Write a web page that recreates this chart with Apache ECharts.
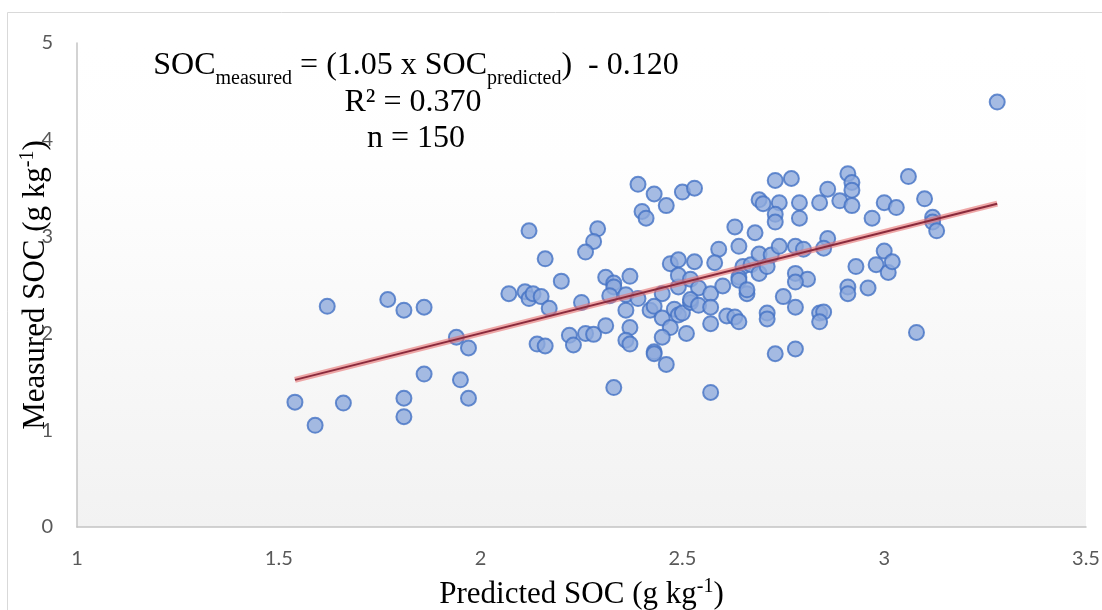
<!DOCTYPE html>
<html>
<head>
<meta charset="utf-8">
<script src="https://cdn.jsdelivr.net/npm/echarts@6/dist/echarts.min.js"></script>
<style>
  html, body { margin: 0; padding: 0; background: #fff; }
  #chart { width: 1102px; height: 610px; }
</style>
</head>
<body>
<div id="chart"></div>
<script>
// predicted vs measured SOC
const predicted = [
  1.54, 1.59, 1.62, 1.66, 1.77, 1.81, 1.86, 1.81, 1.81, 1.86, 1.94, 1.97, 1.95, 1.97,
  2.07, 2.11, 2.12, 2.13, 2.15, 2.17, 2.12, 2.16, 2.20, 2.25, 2.14, 2.16, 2.22, 2.23,
  2.26, 2.28, 2.29, 2.28, 2.26, 2.31, 2.33, 2.33, 2.32, 2.31, 2.33,
  2.37, 2.36, 2.39, 2.36, 2.37, 2.36, 2.37, 2.39, 2.43, 2.46, 2.40, 2.41, 2.45, 2.42,
  2.43, 2.45, 2.48, 2.49, 2.50, 2.52, 2.49, 2.47, 2.45, 2.51, 2.43, 2.43, 2.46, 2.47,
  2.49, 2.49,
  2.50, 2.53, 2.53, 2.52, 2.54, 2.57, 2.60, 2.52, 2.54, 2.57, 2.57, 2.57, 2.59, 2.58,
  2.63, 2.64, 2.65, 2.67, 2.64, 2.66, 2.61, 2.63, 2.64, 2.69, 2.70, 2.68, 2.69, 2.69,
  2.71, 2.72,
  2.73, 2.77, 2.74, 2.79, 2.73, 2.73, 2.79, 2.74, 2.78, 2.80, 2.78, 2.81, 2.78, 2.71,
  2.71, 2.75, 2.78, 2.73, 2.78, 2.84, 2.86, 2.89, 2.86, 2.85, 2.84, 2.85, 2.84,
  2.91, 2.92, 2.92, 2.92, 2.97, 3.00, 2.93, 3.00, 2.98, 3.01, 2.91, 2.91, 2.96, 3.06,
  3.03, 3.10, 3.12, 3.12, 3.13, 3.02, 3.08, 3.28, 2.64, 2.66
];
const measured = [
  1.29, 1.05, 2.28, 1.28, 2.35, 2.24, 2.27, 1.33, 1.14, 1.58, 1.96, 1.85, 1.52, 1.33,
  2.41, 2.43, 2.36, 2.41, 2.38, 2.26, 3.06, 2.77, 2.54, 2.32, 1.89, 1.87, 1.98, 1.88,
  2.00, 1.99, 3.08, 2.95, 2.84, 2.58, 2.52, 2.48, 2.39, 2.08, 1.44,
  2.59, 2.40, 2.36, 2.24, 2.06, 1.93, 1.89, 3.54, 3.44, 3.32, 3.26, 3.19, 2.41, 2.24,
  2.28, 2.16, 2.25, 2.19, 2.21, 2.32, 2.48, 2.06, 1.96, 2.00, 1.81, 1.79, 1.68, 2.72,
  2.76, 2.60,
  3.46, 3.50, 2.74, 2.56, 2.47, 2.41, 2.49, 2.35, 2.29, 2.27, 2.10, 1.39, 2.87, 2.73,
  3.10, 2.90, 2.69, 2.71, 2.58, 2.41, 2.18, 2.17, 2.12, 3.38, 3.34, 3.04, 2.82, 2.62,
  2.69, 2.81,
  3.58, 3.60, 3.35, 3.35, 3.23, 3.15, 3.19, 2.90, 2.90, 2.87, 2.62, 2.56, 2.53, 2.21,
  2.15, 2.38, 2.27, 1.79, 1.84, 3.35, 3.49, 3.37, 2.98, 2.88, 2.21, 2.22, 2.12,
  3.65, 3.56, 3.48, 3.32, 3.19, 3.35, 2.69, 2.85, 2.71, 2.63, 2.48, 2.41, 2.47, 3.62,
  3.30, 3.39, 3.20, 3.15, 3.06, 2.74, 2.01, 4.39, 2.55, 2.45
];
// trend line ends
const trendX = [1.54, 3.28];
const trendY = [1.52, 3.34];

const xTicks = { min: 1, max: 3.5, interval: 0.5 };
const yTicks = { min: 0, max: 5, interval: 1 };

const points = predicted.map((p, i) => [p, measured[i]]);
const trend = trendX.map((x, i) => [x, trendY[i]]);

const serif = 'Liberation Serif';
const nameRich = {
  t: { fontFamily: serif, fontSize: 31, color: '#000', lineHeight: 33, verticalAlign: 'bottom' },
  u: { fontFamily: serif, fontSize: 20, color: '#000', lineHeight: 33, verticalAlign: 'top' }
};

const chart = echarts.init(document.getElementById('chart'));
chart.setOption({
  backgroundColor: '#fff',
  animation: false,
  grid: { left: 77, right: 16, top: 43, bottom: 83, outerBoundsMode: 'none', containLabel: false },
  graphic: [
    {
      type: 'rect', z: -10, silent: true,
      shape: { x: 7.5, y: 12.5, width: 1200, height: 700 },
      style: { fill: 'none', stroke: '#d9d9d9', lineWidth: 1 }
    },
    {
      type: 'rect', z: -9, silent: true,
      shape: { x: 77, y: 43, width: 1009, height: 484 },
      style: {
        fill: new echarts.graphic.LinearGradient(0, 0, 0, 1, [
          { offset: 0, color: '#ffffff' },
          { offset: 0.25, color: '#fefefe' },
          { offset: 1, color: '#f2f2f2' }
        ])
      }
    },
    {
      type: 'text', silent: true, x: 416, y: 50,
      style: {
        align: 'center',
        text: '{a|SOC}{s|measured}{a| = (1.05 x SOC}{s|predicted}{a|)  - 0.120}',
        rich: {
          a: { fontFamily: serif, fontSize: 32, color: '#000', lineHeight: 36, verticalAlign: 'top' },
          s: { fontFamily: serif, fontSize: 20, color: '#000', lineHeight: 20, padding: [19, 0, 0, 0], verticalAlign: 'top' }
        }
      }
    },
    {
      type: 'text', silent: true, x: 413, y: 87,
      style: { align: 'center', text: 'R² = 0.370', fontFamily: serif, fontSize: 32, fill: '#000' }
    },
    {
      type: 'text', silent: true, x: 416, y: 123,
      style: { align: 'center', text: 'n = 150', fontFamily: serif, fontSize: 32, fill: '#000' }
    }
  ],
  xAxis: {
    type: 'value',
    min: xTicks.min, max: xTicks.max, interval: xTicks.interval,
    axisLine: { show: true, lineStyle: { color: '#c4c4c4', width: 1.5 } },
    axisTick: { show: false },
    splitLine: { show: false },
    axisLabel: { color: '#595959', fontFamily: 'Lato', fontSize: 20, margin: 22 },
    name: '{t|Predicted SOC (g kg}{u|-1}{t|)}',
    nameLocation: 'middle',
    nameGap: 50,
    nameMoveOverlap: false,
    nameTextStyle: { rich: nameRich }
  },
  yAxis: {
    type: 'value',
    min: yTicks.min, max: yTicks.max, interval: yTicks.interval,
    axisLine: { show: true, lineStyle: { color: '#c4c4c4', width: 1.5 } },
    axisTick: { show: false },
    splitLine: { show: false },
    axisLabel: { color: '#595959', fontFamily: 'Lato', fontSize: 20, margin: 24 },
    name: '{t|Measured SOC (g kg}{u|-1}{t|)}',
    nameLocation: 'middle',
    nameGap: 26,
    nameMoveOverlap: false,
    nameTextStyle: { rich: nameRich }
  },
  series: [
    {
      type: 'scatter',
      data: points,
      symbol: 'circle',
      symbolSize: 15,
      itemStyle: { color: '#8eaadc', borderColor: '#4472c4', borderWidth: 2 },
      z: 2
    },
    {
      type: 'line',
      data: trend,
      symbol: 'none',
      lineStyle: { color: 'rgba(230,110,110,0.6)', width: 6 },
      z: 3
    },
    {
      type: 'line',
      data: trend,
      symbol: 'none',
      lineStyle: { color: '#8a2a3c', width: 2 },
      z: 4
    }
  ]
});
</script>
</body>
</html>
